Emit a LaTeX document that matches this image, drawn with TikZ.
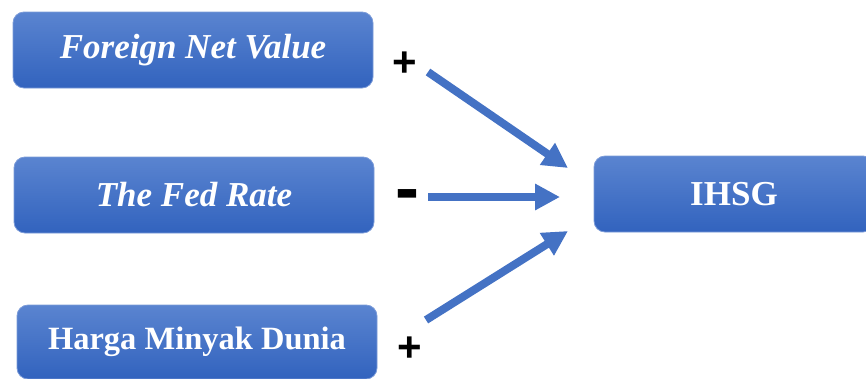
\documentclass[tikz,border=0pt]{standalone}
\usepackage{fontspec}
\setmainfont{Liberation Serif}
\newfontfamily\signfont{Liberation Sans}
\usetikzlibrary{arrows.meta}
\definecolor{boxtop}{HTML}{5A84D0}
\definecolor{boxbot}{HTML}{3263BE}
\definecolor{boxline}{HTML}{7B9BD8}
\definecolor{arrowblue}{HTML}{4472C4}
\begin{document}
\begin{tikzpicture}[x=1pt, y=-1pt,
  var/.style={shape=rectangle, rounded corners=11pt, top color=boxtop, bottom color=boxbot, draw=boxline, line width=0.8pt, text=white, font=\fontsize{35}{38}\selectfont\bfseries, minimum width=360pt, minimum height=76pt, inner sep=0pt},
  sign/.style={font=\signfont\fontsize{42}{42}\selectfont\bfseries, inner sep=0pt},
  arr/.style={-{Triangle[length=25pt,width=25pt]}, line width=8pt, draw=arrowblue}]
\useasboundingbox (0,0) rectangle (866,378);
\clip (0,0) rectangle (866,378);
\node[var] (fnv) at (193,50) {\itshape Foreign Net Value};
\node[var] (fed) at (194,195) {\itshape The Fed Rate};
\node[var, minimum height=74pt, font=\fontsize{32.5}{36}\selectfont\bfseries] (oil) at (197,342) {Harga Minyak Dunia};
\node[var, minimum width=280pt] (ihsg) at (734,194) {IHSG};
\node[sign] (s1) at (405,64) {+};
\node[sign, font=\signfont\fontsize{72}{72}\selectfont\bfseries] (s2) at (407,201) {-};
\node[sign] (s3) at (410,349) {+};
\coordinate (a1) at (428,72);
\coordinate (b1) at (568,168);
\coordinate (a2) at (428,197);
\coordinate (b2) at (560,197);
\coordinate (a3) at (426,320);
\coordinate (b3) at (568,231);
\draw [arr] (a1) -- (b1);
\draw [arr] (a2) -- (b2);
\draw [arr] (a3) -- (b3);
\end{tikzpicture}
\end{document}
